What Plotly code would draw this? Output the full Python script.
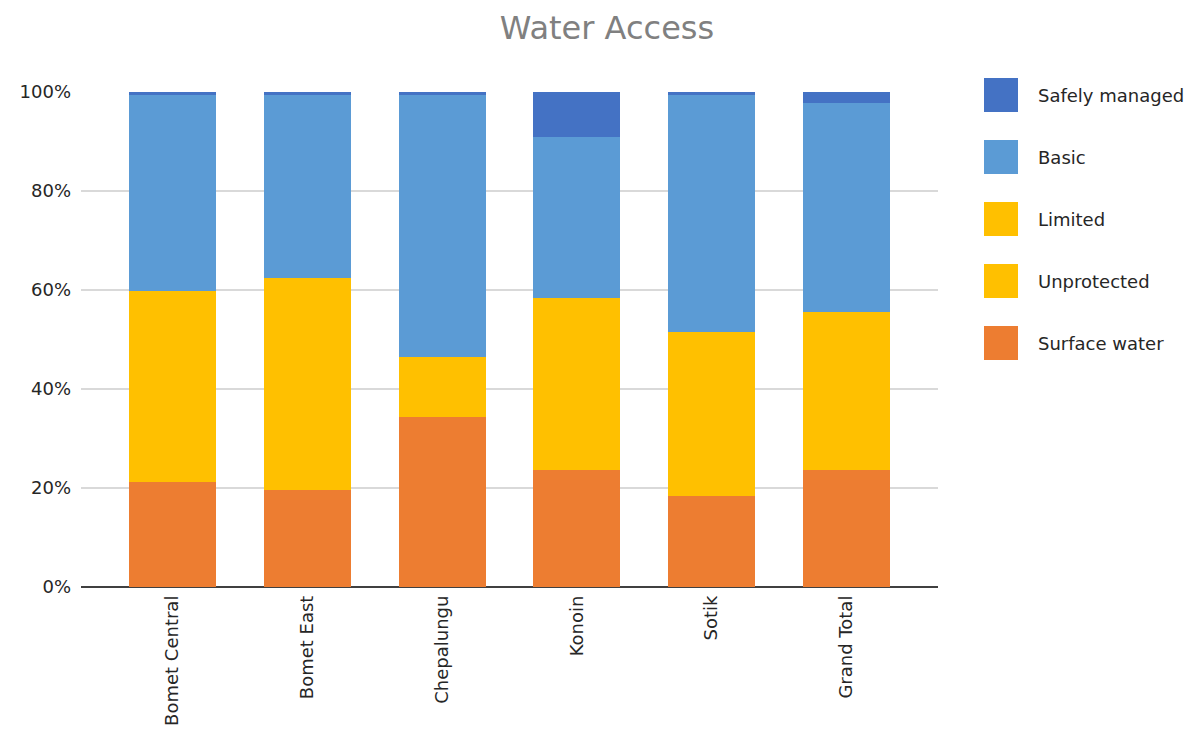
import plotly.graph_objects as go

categories = ["Bomet Central", "Bomet East", "Chepalungu", "Konoin", "Sotik", "Grand Total"]
surface_water = [21.3, 19.6, 34.4, 23.6, 18.4, 23.6]
unprotected = [38.4, 42.9, 12.1, 34.8, 33.1, 32.0]
limited = [0, 0, 0, 0, 0, 0]
basic = [39.7, 36.9, 52.9, 32.5, 47.9, 42.2]
safely_managed = [0.6, 0.6, 0.6, 9.1, 0.6, 2.2]
y_ticks = [0, 20, 40, 60, 80, 100]

series = [
    ("Surface water", surface_water, "#ED7D31"),
    ("Unprotected", unprotected, "#FFC000"),
    ("Limited", limited, "#FFC000"),
    ("Basic", basic, "#5B9BD5"),
    ("Safely managed", safely_managed, "#4472C4"),
]

FONT = "'DejaVu Sans', sans-serif"

fig = go.Figure()
for name, vals, col in series:
    fig.add_trace(go.Bar(x=categories, y=vals, name=name, marker=dict(color=col, line=dict(width=0)),
                         showlegend=False))

# custom legend (large swatches, top to bottom)
legend_items = list(reversed(series))
shapes = []
annotations = []
y0 = 95
step = 62
for i, (name, vals, col) in enumerate(legend_items):
    cy = y0 + i * step
    shapes.append(dict(type="rect", xref="paper", yref="paper",
                       x0=(984 - 81) / 857, x1=(1018 - 81) / 857,
                       y0=(587 - (cy + 17)) / 495, y1=(587 - (cy - 17)) / 495,
                       fillcolor=col, line=dict(width=0)))
    annotations.append(dict(text=name, xref="paper", yref="paper",
                            x=(1036 - 81) / 857, y=(587 - cy) / 495,
                            xanchor="left", yanchor="middle", showarrow=False,
                            font=dict(family=FONT, size=18, color="#262626")))

fig.update_layout(
    barmode="stack",
    bargap=0.355,
    width=1200, height=742,
    margin=dict(l=81, r=262, t=92, b=155),
    paper_bgcolor="white", plot_bgcolor="white",
    title=dict(text="Water Access", x=607 / 1200, xanchor="center", y=1 - 28 / 742, yanchor="middle",
               font=dict(family=FONT, size=32, color="#808080")),
    font=dict(family=FONT, size=17, color="#262626"),
    shapes=shapes,
    annotations=annotations,
    xaxis=dict(type="category", range=[-0.68, 5.68], tickangle=-90, showgrid=False,
               showline=False, ticks="", ticklabelstandoff=4,
               tickfont=dict(family=FONT, size=18, color="#262626")),
    yaxis=dict(range=[0, 100], tickvals=y_ticks, ticktext=[f"{v}%" for v in y_ticks],
               showgrid=True, gridcolor="#D9D9D9", gridwidth=2,
               zeroline=True, zerolinecolor="#404040", zerolinewidth=2,
               showline=False, ticks="", ticklabelstandoff=9,
               tickfont=dict(family=FONT, size=18, color="#262626")),
)

fig.write_html("out.html")
